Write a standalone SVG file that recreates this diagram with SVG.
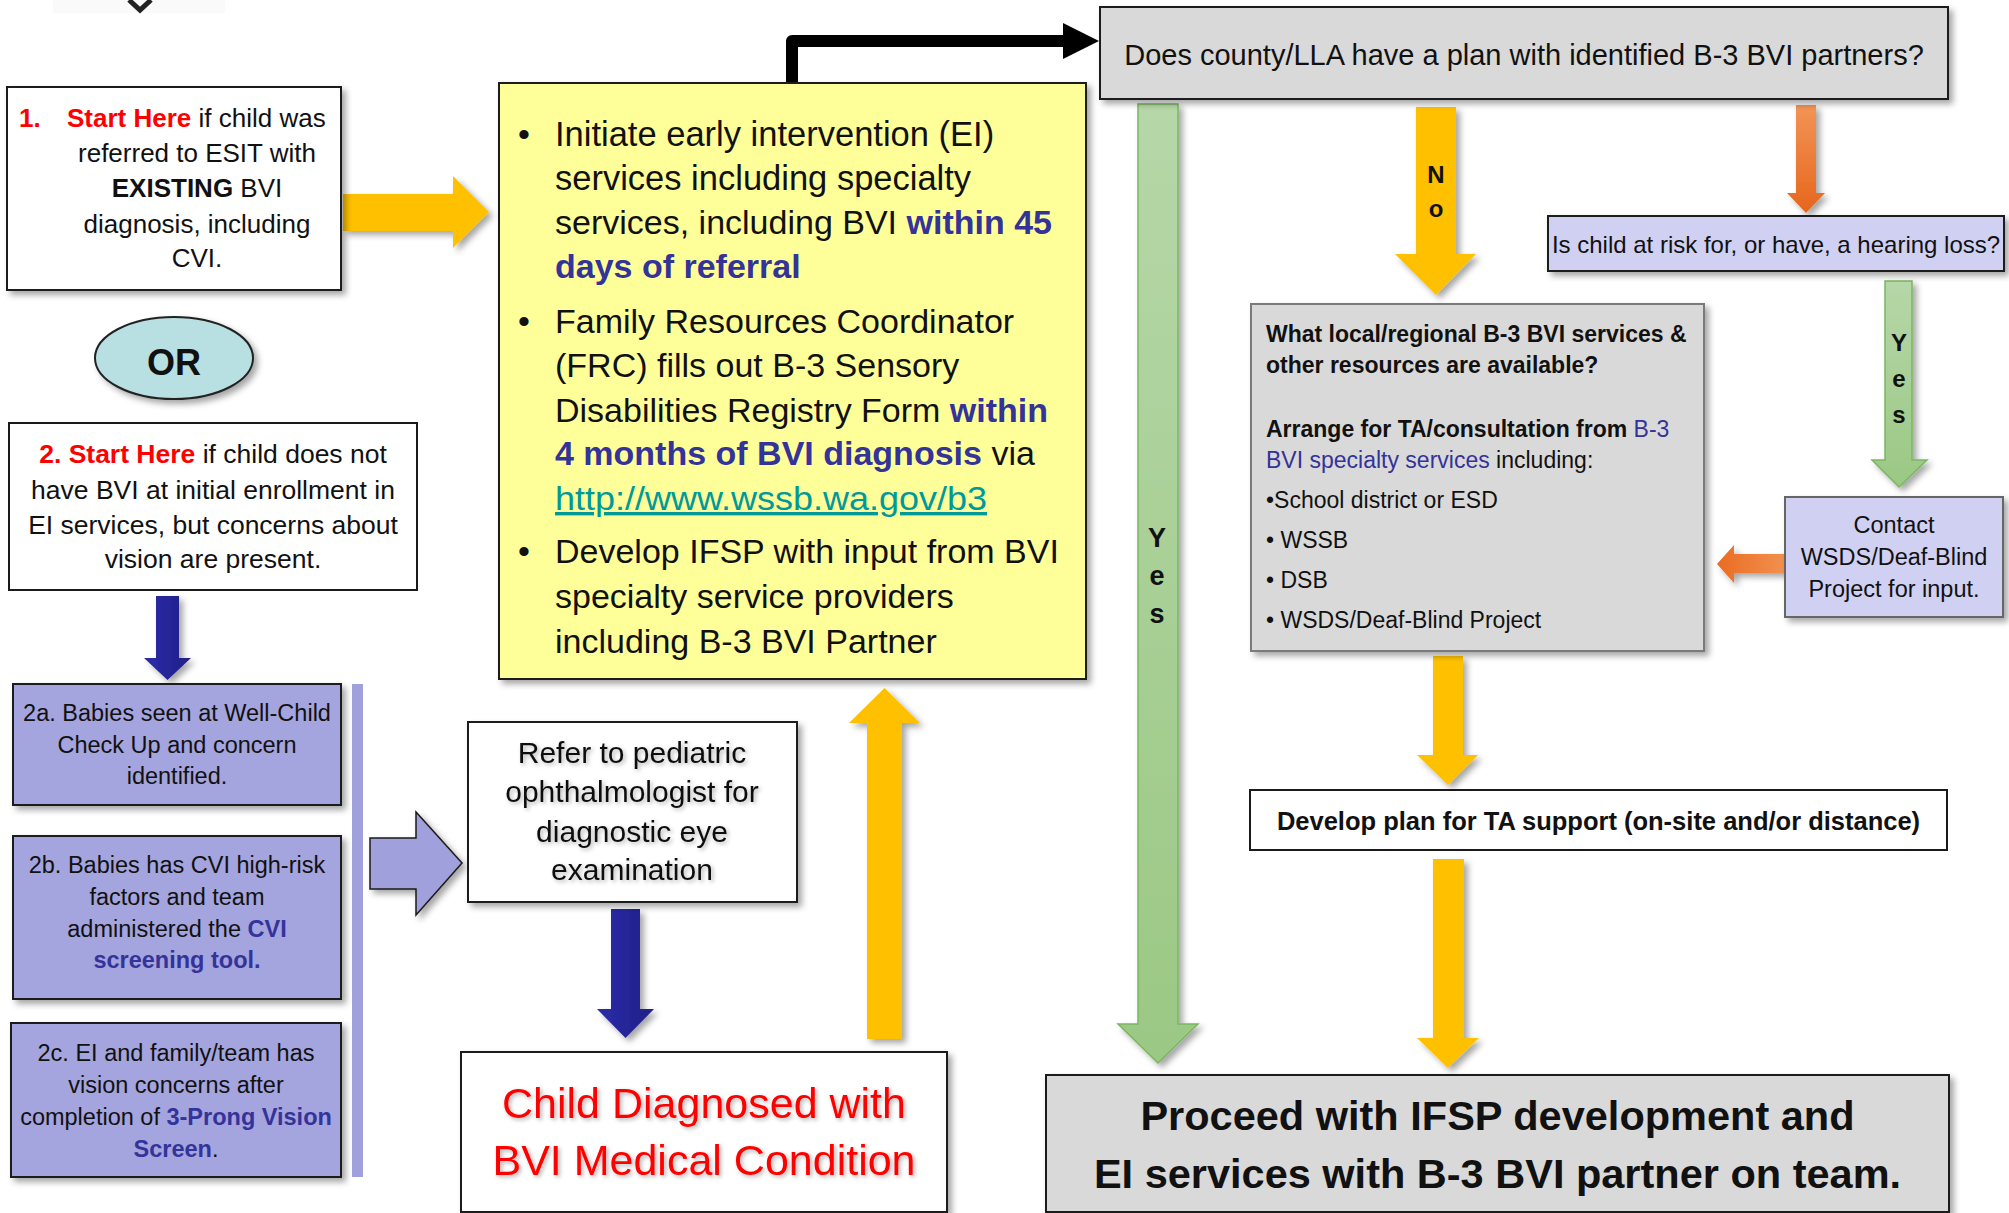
<svg xmlns="http://www.w3.org/2000/svg" width="2009" height="1213" viewBox="0 0 2009 1213">
<defs>
<style>
text{font-family:"Liberation Sans",Arial,sans-serif;fill:#111;}
.b{font-weight:bold;}
.red{fill:#ff0000;}
.blu{fill:#333399;}
.box{stroke:#1a1a1a;stroke-width:2;}
.wh{fill:#fff;}
.gry{fill:#d9d9d9;}
.lav{fill:#a4a4de;}
.lav2{fill:#d0d0f2;}
.yel{fill:#ffc000;}
.c{text-anchor:middle;}
</style>
<filter id="sh" x="-10%" y="-10%" width="130%" height="130%"><feDropShadow dx="4" dy="4" stdDeviation="3" flood-color="#000" flood-opacity="0.35"/></filter>
<filter id="tsh" x="-10%" y="-20%" width="130%" height="150%"><feDropShadow dx="2" dy="2" stdDeviation="2" flood-color="#000" flood-opacity="0.3"/></filter>
<linearGradient id="gBlue" x1="0" y1="0" x2="1" y2="0"><stop offset="0" stop-color="#2c2cab"/><stop offset="1" stop-color="#1f1f86"/></linearGradient>
<linearGradient id="gGreen" x1="0" y1="0" x2="0" y2="1"><stop offset="0" stop-color="#b6d7a8"/><stop offset="1" stop-color="#9bc884"/></linearGradient>
<linearGradient id="gOrange" x1="0" y1="0" x2="0" y2="1"><stop offset="0" stop-color="#f29456"/><stop offset="1" stop-color="#e6661c"/></linearGradient>
<linearGradient id="gOrangeH" x1="0" y1="0" x2="1" y2="0"><stop offset="0" stop-color="#ea6c22"/><stop offset="1" stop-color="#f29050"/></linearGradient>
</defs>
<rect width="2009" height="1213" fill="#fff"/>

<g id="top-chevron">
<rect x="53" y="0" width="172" height="13" fill="#fafafa"/>
<polyline points="129,0 140,10 151,0" fill="none" stroke="#222" stroke-width="5"/>
</g>

<g id="connectors">
<polygon points="343,194 453,194 453,176 489,212 453,248 453,231 343,231" class="yel" filter="url(#sh)"/>
<polygon points="156,596 179,596 179,658 191,658 167.5,680 144,658 156,658" fill="url(#gBlue)" filter="url(#sh)"/>
<rect x="352" y="684" width="11" height="493" fill="#a0a0dc"/>
<polygon points="370,838 416,838 416,812 462,863 416,915 416,889 370,889" fill="#a0a0dc" stroke="#1a1a1a" stroke-width="1.5" filter="url(#sh)"/>
<polygon points="611,909 640,909 640,1009 654,1009 625.5,1038 597,1009 611,1009" fill="url(#gBlue)" filter="url(#sh)"/>
<polygon points="867,1039 867,723 849,723 884.5,688 920,723 902,723 902,1039" class="yel" filter="url(#sh)"/>
<path d="M792,83 V41 H1066" fill="none" stroke="#000" stroke-width="12" stroke-linejoin="round"/>
<polygon points="1063,23 1099,41 1063,59" fill="#000"/>
<polygon points="1138,104 1178,104 1178,1024 1198,1024 1158,1063 1118,1024 1138,1024" fill="url(#gGreen)" stroke="#7ab662" stroke-width="1.5" filter="url(#sh)"/>
<polygon points="1416,107 1456,107 1456,254 1476,254 1436,295 1395,254 1416,254" class="yel" filter="url(#sh)"/>
<polygon points="1796,105 1816,105 1816,193 1825,193 1806,213 1787,193 1796,193" fill="url(#gOrange)" filter="url(#sh)"/>
<polygon points="1885,281 1912,281 1912,460 1927,460 1899,487 1872,460 1885,460" fill="url(#gGreen)" stroke="#7ab662" stroke-width="1.5" filter="url(#sh)"/>
<polygon points="1785,554 1734,554 1734,545 1717,564 1734,583 1734,573 1785,573" fill="url(#gOrangeH)" filter="url(#sh)"/>
<polygon points="1433,656 1463,656 1463,755 1478,755 1448,785 1417,755 1433,755" class="yel" filter="url(#sh)"/>
<polygon points="1433,859 1464,859 1464,1038 1479,1038 1448,1068 1417,1038 1433,1038" class="yel" filter="url(#sh)"/>
<text x="1157" y="547" class="b c" font-size="27">Y</text>
<text x="1157" y="585" class="b c" font-size="27">e</text>
<text x="1157" y="623" class="b c" font-size="27">s</text>
<text x="1436" y="183" class="b c" font-size="24">N</text>
<text x="1436" y="217" class="b c" font-size="24">o</text>
<text x="1899" y="351" class="b c" font-size="24">Y</text>
<text x="1899" y="387" class="b c" font-size="24">e</text>
<text x="1899" y="423" class="b c" font-size="24">s</text>
</g>

<g id="start1">
<rect x="7" y="87" width="334" height="203" class="wh box" filter="url(#sh)"/>
<text x="19" y="127" font-size="26"><tspan class="b red">1.</tspan><tspan x="67" class="b red">Start Here</tspan> if child was</text>
<text x="197" y="162" font-size="26" class="c">referred to ESIT with</text>
<text x="197" y="197" font-size="26" class="c"><tspan class="b">EXISTING</tspan> BVI</text>
<text x="197" y="233" font-size="26" class="c">diagnosis, including</text>
<text x="197" y="267" font-size="26" class="c">CVI.</text>
</g>

<g id="or">
<ellipse cx="174" cy="358" rx="79" ry="41" fill="#b8dfe2" stroke="#222" stroke-width="2" filter="url(#sh)"/>
<text x="174" y="375" font-size="36" class="b c">OR</text>
</g>

<g id="start2">
<rect x="9" y="423" width="408" height="167" class="wh box"/>
<text x="213" y="463" font-size="26.5" class="c"><tspan class="b red">2. Start Here</tspan> if child does not</text>
<text x="213" y="499" font-size="26.5" class="c">have BVI at initial enrollment in</text>
<text x="213" y="534" font-size="26.5" class="c">EI services, but concerns about</text>
<text x="213" y="568" font-size="26.5" class="c">vision are present.</text>
</g>

<g id="box2a">
<rect x="13" y="684" width="328" height="121" class="lav box" filter="url(#sh)"/>
<text x="177" y="721" font-size="23.5" class="c">2a. Babies seen at Well-Child</text>
<text x="177" y="753" font-size="23.5" class="c">Check Up and concern</text>
<text x="177" y="784" font-size="23.5" class="c">identified.</text>
</g>

<g id="box2b">
<rect x="13" y="836" width="328" height="163" class="lav box" filter="url(#sh)"/>
<text x="177" y="873" font-size="23.5" class="c">2b. Babies has CVI high-risk</text>
<text x="177" y="905" font-size="23.5" class="c">factors and team</text>
<text x="177" y="937" font-size="23.5" class="c">administered the <tspan class="b blu">CVI</tspan></text>
<text x="177" y="968" font-size="23.5" class="c b blu">screening tool.</text>
</g>

<g id="box2c">
<rect x="11" y="1023" width="330" height="154" class="lav box" filter="url(#sh)"/>
<text x="176" y="1061" font-size="23.5" class="c">2c. EI and family/team has</text>
<text x="176" y="1093" font-size="23.5" class="c">vision concerns after</text>
<text x="176" y="1125" font-size="23.5" class="c">completion of <tspan class="b blu">3-Prong Vision</tspan></text>
<text x="176" y="1157" font-size="23.5" class="c"><tspan class="b blu">Screen</tspan>.</text>
</g>

<g id="refer">
<rect x="468" y="722" width="329" height="180" class="wh box" filter="url(#sh)"/>
<g filter="url(#tsh)">
<text x="632" y="763" font-size="30" class="c">Refer to pediatric</text>
<text x="632" y="802" font-size="30" class="c">ophthalmologist for</text>
<text x="632" y="842" font-size="30" class="c">diagnostic eye</text>
<text x="632" y="880" font-size="30" class="c">examination</text>
</g>
</g>

<g id="diagnosed">
<rect x="461" y="1052" width="486" height="160" class="wh box" filter="url(#sh)"/>
<g filter="url(#tsh)">
<text x="704" y="1118" font-size="43" class="c red">Child Diagnosed with</text>
<text x="704" y="1175" font-size="43" class="c red">BVI Medical Condition</text>
</g>
</g>

<g id="initiate">
<rect x="499" y="83" width="587" height="596" fill="#ffff99" class="box" filter="url(#sh)"/>
<text x="518" y="146" font-size="34">•</text>
<text x="555" y="146" font-size="34.5">Initiate early intervention (EI)</text>
<text x="555" y="190" font-size="34.5">services including specialty</text>
<text x="555" y="234" font-size="34">services, including BVI <tspan class="b blu">within 45</tspan></text>
<text x="555" y="278" font-size="34" class="b blu">days of referral</text>
<text x="518" y="333" font-size="34">•</text>
<text x="555" y="333" font-size="34">Family Resources Coordinator</text>
<text x="555" y="377" font-size="34">(FRC) fills out B-3 Sensory</text>
<text x="555" y="422" font-size="34">Disabilities Registry Form <tspan class="b blu">within</tspan></text>
<text x="555" y="465" font-size="34"><tspan class="b blu">4 months of BVI diagnosis</tspan> via</text>
<text x="555" y="510" font-size="34" style="fill:#009999" text-decoration="underline" textLength="432" lengthAdjust="spacingAndGlyphs">http://www.wssb.wa.gov/b3</text>
<text x="518" y="563" font-size="34">•</text>
<text x="555" y="563" font-size="34">Develop IFSP with input from BVI</text>
<text x="555" y="608" font-size="34">specialty service providers</text>
<text x="555" y="653" font-size="34">including B-3 BVI Partner</text>
</g>

<g id="plan-question">
<rect x="1100" y="7" width="848" height="92" class="gry box" filter="url(#sh)"/>
<text x="1524" y="65" font-size="29" class="c">Does county/LLA have a plan with identified B-3 BVI partners?</text>
</g>

<g id="hearing">
<rect x="1548" y="216" width="456" height="55" class="lav2 box" filter="url(#sh)"/>
<text x="1776" y="253" font-size="24" class="c">Is child at risk for, or have, a hearing loss?</text>
</g>

<g id="resources">
<rect x="1251" y="304" width="453" height="347" class="gry" stroke="#7a7a7a" stroke-width="2" filter="url(#sh)"/>
<text x="1266" y="342" font-size="23" class="b">What local/regional B-3 BVI services &amp;</text>
<text x="1266" y="373" font-size="23" class="b">other resources are available?</text>
<text x="1266" y="437" font-size="23"><tspan class="b">Arrange for TA/consultation from</tspan> <tspan class="blu">B-3</tspan></text>
<text x="1266" y="468" font-size="23"><tspan class="blu">BVI specialty services</tspan> including:</text>
<text x="1266" y="508" font-size="23">•School district or ESD</text>
<text x="1266" y="548" font-size="23">• WSSB</text>
<text x="1266" y="588" font-size="23">• DSB</text>
<text x="1266" y="628" font-size="23">• WSDS/Deaf-Blind Project</text>
</g>

<g id="contact">
<rect x="1785" y="497" width="218" height="120" class="lav2" stroke="#666" stroke-width="2" filter="url(#sh)"/>
<text x="1894" y="533" font-size="23.5" class="c">Contact</text>
<text x="1894" y="565" font-size="23.5" class="c">WSDS/Deaf-Blind</text>
<text x="1894" y="597" font-size="23.5" class="c">Project for input.</text>
</g>

<g id="ta-plan">
<rect x="1250" y="790" width="697" height="60" class="wh box"/>
<text x="1598.5" y="830" font-size="25.5" class="b c">Develop plan for TA support (on-site and/or distance)</text>
</g>

<g id="proceed">
<rect x="1046" y="1075" width="903" height="137" class="gry box" filter="url(#sh)"/>
<text x="1497.5" y="1130" font-size="41.5" class="b c">Proceed with IFSP development and</text>
<text x="1497.5" y="1188" font-size="41.5" class="b c">EI services with B-3 BVI partner on team.</text>
</g>
</svg>
